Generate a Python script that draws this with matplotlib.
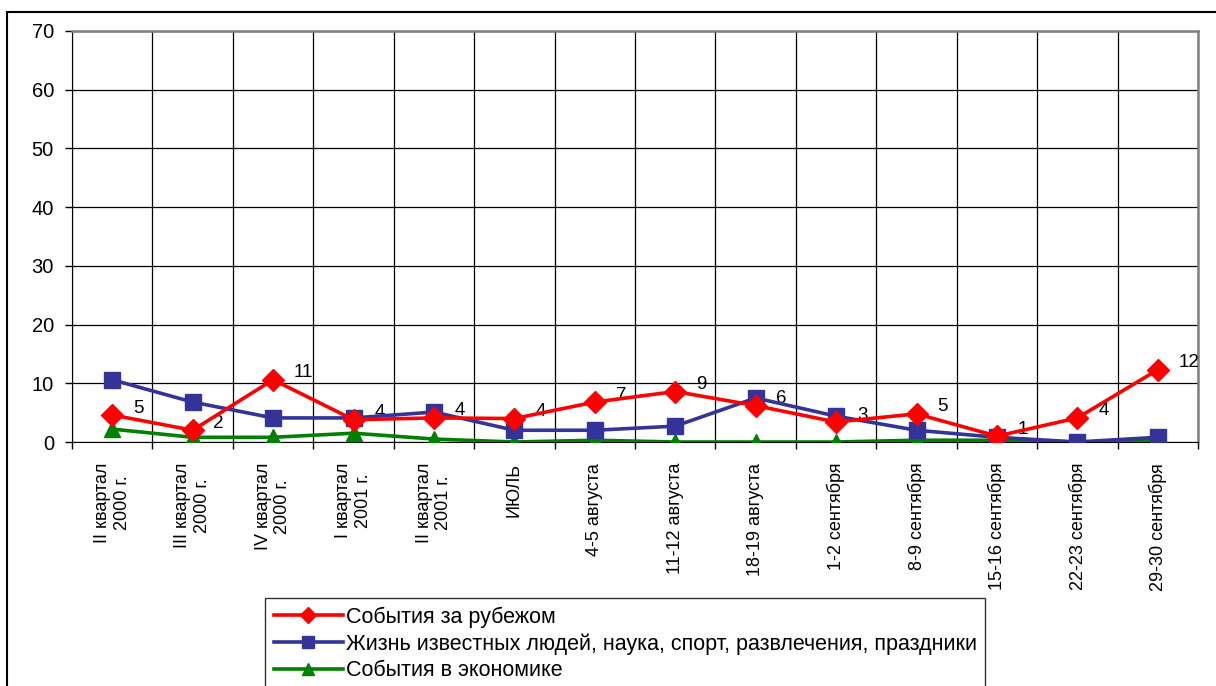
import numpy as np
import matplotlib
matplotlib.use("Agg")
import matplotlib.pyplot as plt
from matplotlib.patches import Rectangle

plt.rcParams['font.family'] = ['Liberation Sans', 'DejaVu Sans']

categories = ['II квартал\n2000 г.', 'III квартал\n2000 г.', 'IV квартал\n2000 г.',
              'I квартал\n2001 г.', 'II квартал\n2001 г.', 'ИЮЛЬ', '4-5 августа',
              '11-12 августа', '18-19 августа', '1-2 сентября', '8-9 сентября',
              '15-16 сентября', '22-23 сентября', '29-30 сентября']

abroad = [4.6, 2.0, 10.6, 3.8, 4.1, 4.0, 6.8, 8.6, 6.2, 3.4, 4.8, 1.0, 4.1, 12.3]
people = [10.6, 6.8, 4.1, 4.1, 5.1, 2.0, 2.0, 2.7, 7.5, 4.4, 2.0, 0.8, 0.0, 0.8]
economy = [2.2, 0.8, 0.8, 1.5, 0.5, 0.0, 0.3, 0.0, 0.0, 0.0, 0.3, 0.3, 0.0, 0.3]

names = ['События за рубежом',
         'Жизнь известных людей, наука, спорт, развлечения, праздники',
         'События в экономике']

fig = plt.figure(figsize=(12.16, 6.86), dpi=100)
ax = fig.add_axes([72 / 1216, 1 - 442 / 686, (1198 - 72) / 1216, (442 - 31) / 686])

x = np.arange(len(categories))
ax.plot(x, abroad, color='#FF0000', lw=2.6, marker='D', ms=11, label=names[0], zorder=5)
ax.plot(x, people, color='#333399', lw=2.6, marker='s', ms=12, label=names[1], zorder=4)
ax.plot(x, economy, color='#008000', lw=2.6, marker='^', ms=12, label=names[2], zorder=3)

for xi, v in zip(x, abroad):
    ax.annotate(f'{v:.0f}', (xi, v), xytext=(15, 5), textcoords='offset points',
                fontsize=13.5, ha='left', va='center')

ax.set_xlim(-0.5, len(categories) - 0.5)
ax.set_ylim(0, 70)
ax.set_yticks(range(0, 71, 10))
ax.tick_params(axis='y', labelsize=14.5, direction='out', length=5, width=1, pad=8)
ax.set_xticks(x)
ax.set_xticklabels(categories, rotation=90, fontsize=13, ha='center', va='top',
                   multialignment='center')
ax.tick_params(axis='x', which='major', length=0, pad=15)
ax.set_xticks(np.arange(-0.5, len(categories)), minor=True)
ax.tick_params(axis='x', which='minor', direction='out', length=5, width=1)
ax.grid(True, axis='y', color='black', lw=0.9)
ax.grid(True, axis='x', which='minor', color='black', lw=0.9)
ax.set_axisbelow(True)
for side in ['left', 'bottom']:
    ax.spines[side].set_color('black')
for side in ['right', 'top']:
    ax.spines[side].set_color('#808080')
    ax.spines[side].set_linewidth(1.8)

fig.legend(loc='upper left', bbox_to_anchor=(265 / 1216, 1 - 598 / 686),
           fontsize=15.5, frameon=True, fancybox=False, edgecolor='black',
           handlelength=3.2, handletextpad=0.15, labelspacing=0.25, borderpad=0.4,
           borderaxespad=0, markerscale=0.75)

fig.patches.append(Rectangle((7 / 1216, -0.05), 1.1, 1 - 12 / 686 + 0.05,
                             transform=fig.transFigure, fill=False,
                             edgecolor='black', lw=1.5))

fig.savefig('out.png', dpi=100)
